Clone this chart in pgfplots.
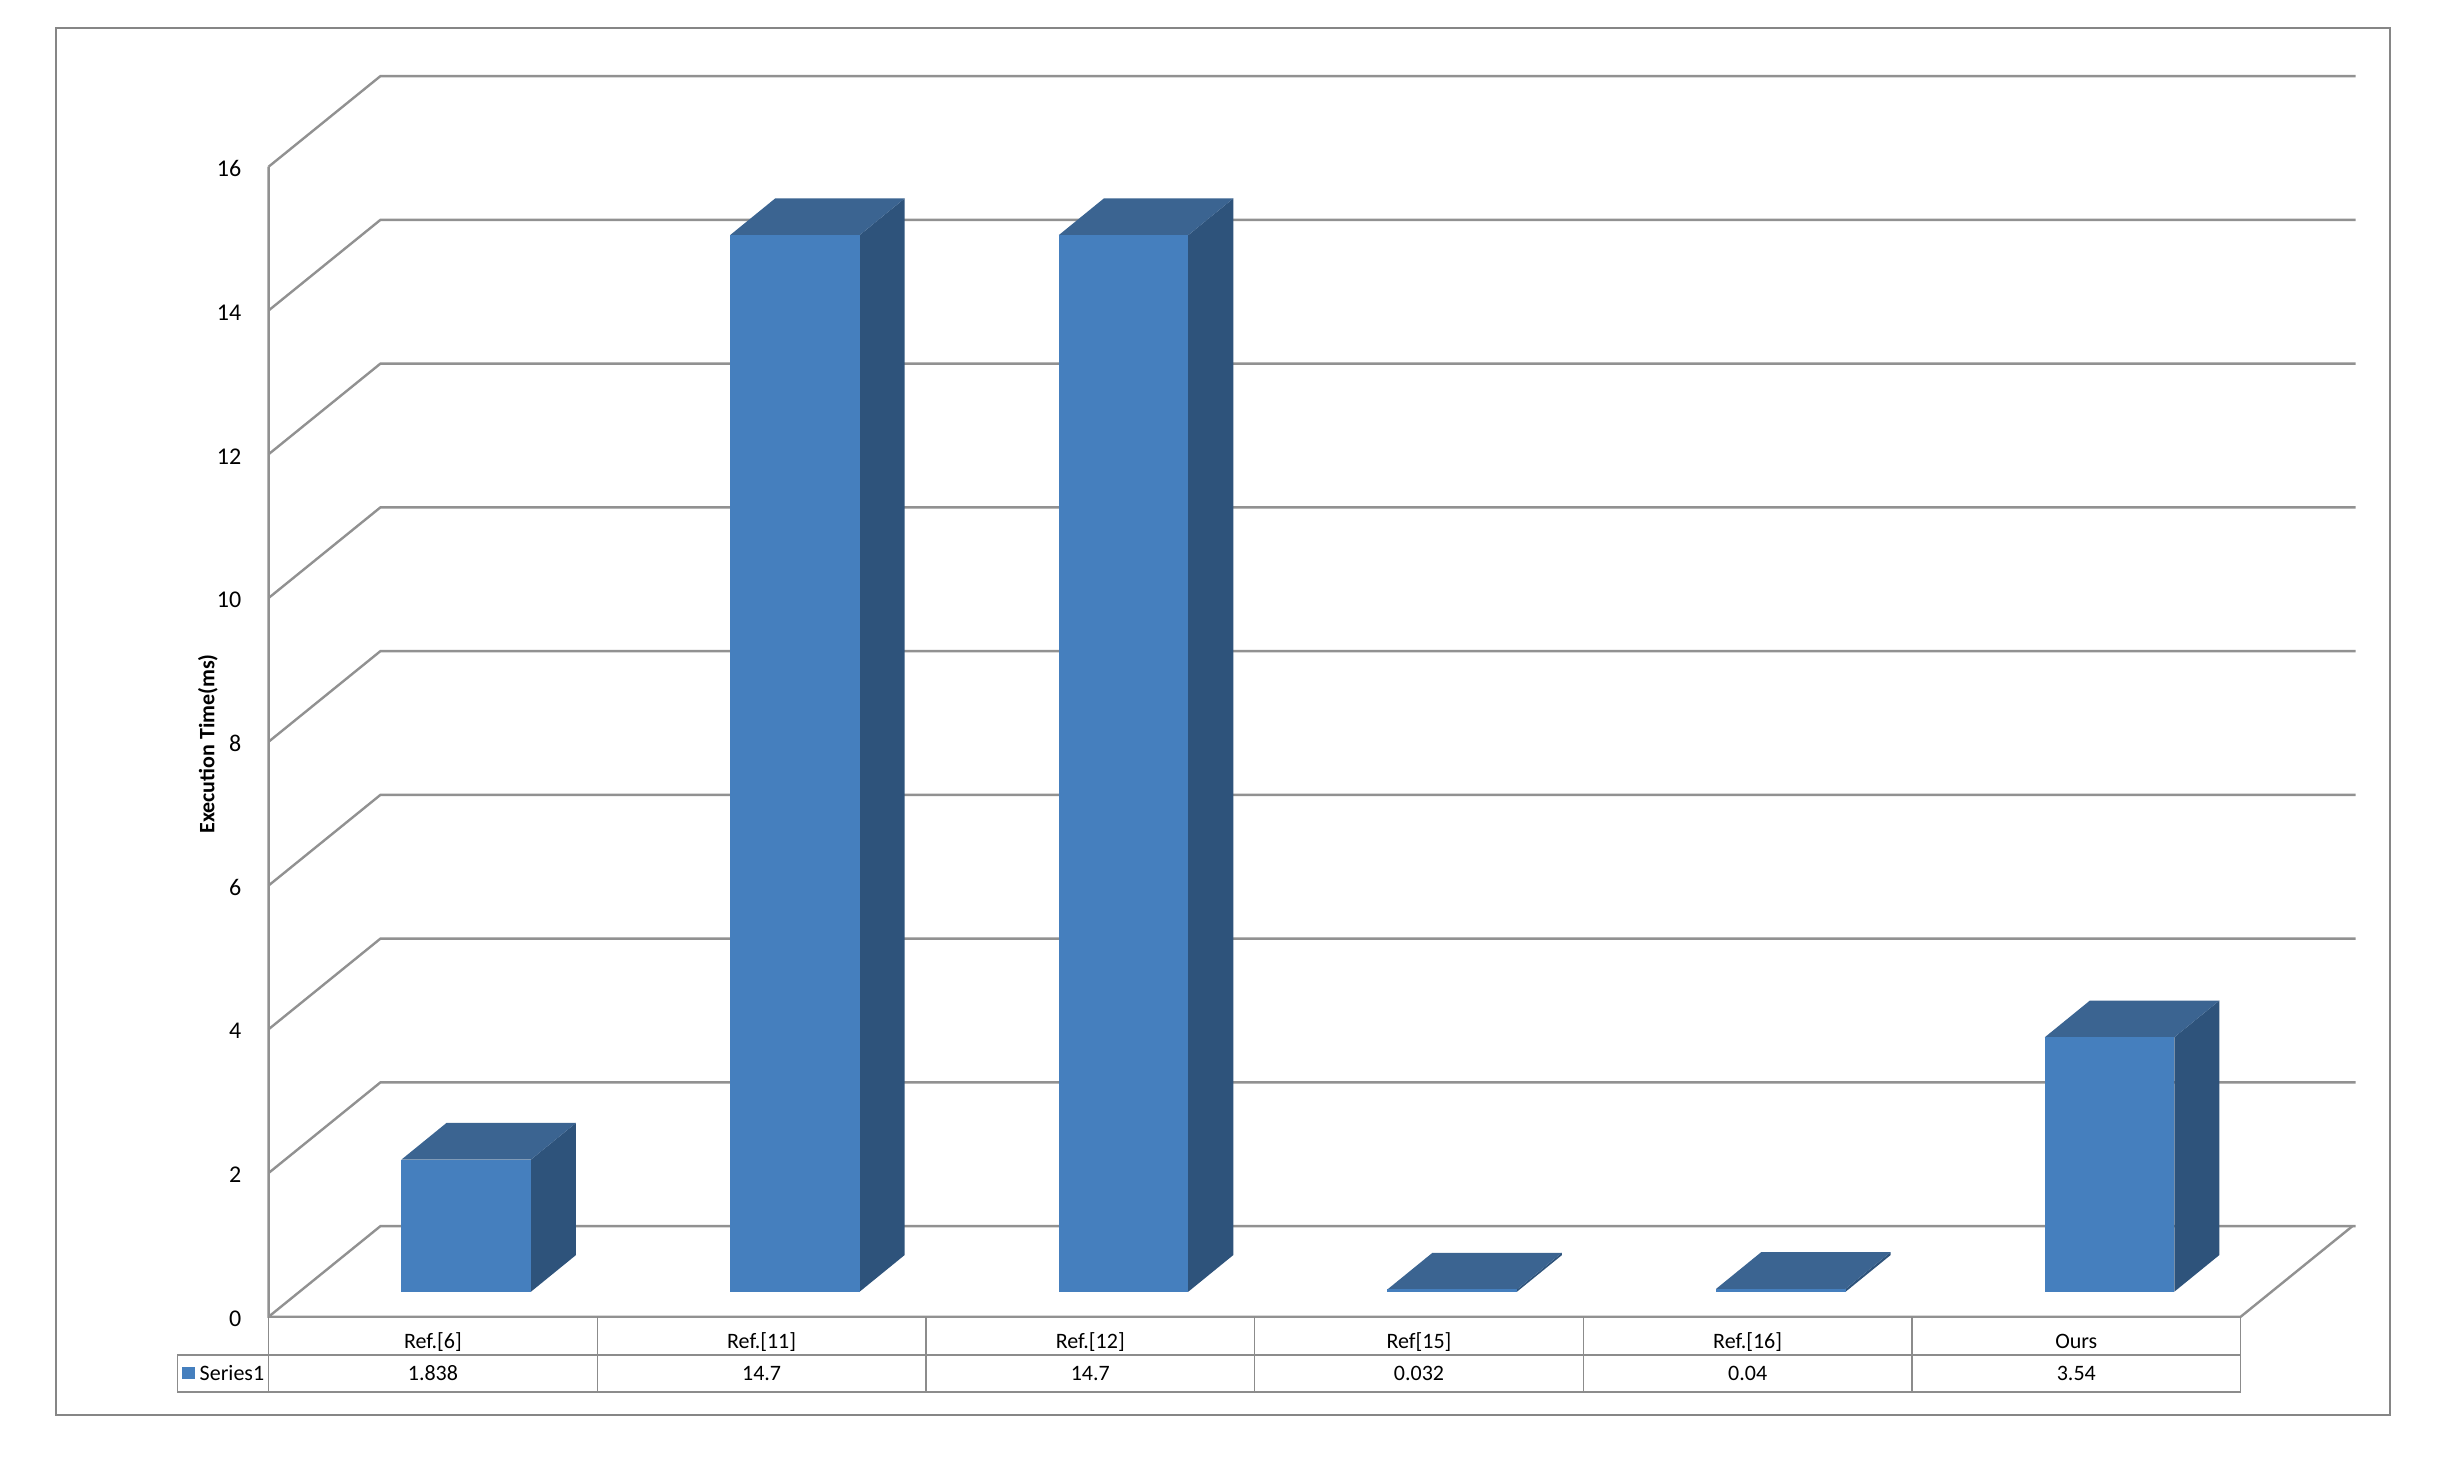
\documentclass[border=0pt]{standalone}
\usepackage{pgfplots}
\pgfplotsset{compat=1.18}
\usepackage{graphicx}
\usepackage{fontspec}
\setmainfont{Carlito}
\definecolor{barfront}{RGB}{69,127,190}
\definecolor{bartop}{RGB}{59,100,145}
\definecolor{barside}{RGB}{46,83,123}
\definecolor{gridgray}{RGB}{145,145,145}
\definecolor{framegray}{RGB}{134,134,134}
\definecolor{tablegray}{RGB}{140,140,140}

% one 3-D column: #1 category index, #2 value
\newcommand{\tbar}[2]{%
 \pgfmathsetmacro{\xa}{#1+0.404}%
 \pgfmathsetmacro{\xb}{#1+0.798}%
 \pgfmathsetmacro{\xc}{#1+0.404+0.137}%
 \pgfmathsetmacro{\xd}{#1+0.798+0.137}%
 \pgfmathsetmacro{\ya}{0.348}%
 \pgfmathsetmacro{\yb}{#2+0.348}%
 \pgfmathsetmacro{\yc}{0.348+0.51}%
 \pgfmathsetmacro{\yd}{#2+0.348+0.51}%
 \edef\tmp{%
  \noexpand\addplot[fill=barside,draw=none] coordinates {(\xb,\ya) (\xd,\yc) (\xd,\yd) (\xb,\yb)};
  \noexpand\addplot[fill=bartop,draw=none] coordinates {(\xa,\yb) (\xb,\yb) (\xd,\yd) (\xc,\yd)};
  \noexpand\addplot[fill=barfront,draw=none] coordinates {(\xa,\ya) (\xb,\ya) (\xb,\yb) (\xa,\yb)};
 }\tmp}

\begin{document}
\begin{tikzpicture}
\begin{axis}[
  scale only axis, width=521.75pt, height=310.5pt,
  xmin=0, xmax=6.35, ymin=0, ymax=17.28,
  clip=false,
  axis line style={draw=none},
  xtick=\empty,
  ytick={0,2,...,16},
  ytick pos=left,
  major tick length=0pt,
  /pgf/number format/assume math mode=true,
  yticklabel style={font=\fontsize{6}{7}\selectfont, xshift=-3.3pt, yshift=-0.5pt},
]
% outer frame
\draw[framegray, line width=0.5pt] (axis cs:-0.647,-1.36) rectangle (axis cs:6.454,17.93);
% walls / grid
\pgfplotsinvokeforeach{0,2,4,6,8,10,12,14,16}{
  \draw[gridgray, line width=0.6pt] (axis cs:0,#1) -- (axis cs:0.34,{#1+1.26}) -- (axis cs:6.35,{#1+1.26});
}
\draw[gridgray, line width=0.6pt] (axis cs:0,16) -- (axis cs:0,0) -- (axis cs:6,0) -- (axis cs:6.34,1.26);
% bars
\tbar{0}{1.838}
\tbar{1}{14.7}
\tbar{2}{14.7}
\tbar{3}{0.032}
\tbar{4}{0.04}
\tbar{5}{3.54}
% data table
\pgfplotsinvokeforeach{0,1,2,3,4,5,6}{
  \draw[tablegray, line width=0.35pt] (axis cs:#1,0) -- (axis cs:#1,-1.043);
}
\draw[tablegray, line width=0.35pt] (axis cs:-0.278,-0.533) -- (axis cs:6,-0.533);
\draw[tablegray, line width=0.35pt] (axis cs:-0.278,-0.533) -- (axis cs:-0.278,-1.043);
\draw[tablegray, line width=0.6pt] (axis cs:-0.278,-1.043) -- (axis cs:6,-1.043);
\fill[barfront] (axis cs:-0.263,-0.70) rectangle (axis cs:-0.225,-0.868);
\begin{scope}[every node/.style={font=\fontsize{5.5}{6}\selectfont, inner sep=0pt}]
\node[anchor=base west] at (axis cs:-0.212,-0.89) {Series1};
\node[anchor=base] at (axis cs:0.5,-0.445) {Ref.[6]};
\node[anchor=base] at (axis cs:1.5,-0.445) {Ref.[11]};
\node[anchor=base] at (axis cs:2.5,-0.445) {Ref.[12]};
\node[anchor=base] at (axis cs:3.5,-0.445) {Ref[15]};
\node[anchor=base] at (axis cs:4.5,-0.445) {Ref.[16]};
\node[anchor=base] at (axis cs:5.5,-0.445) {Ours};
\node[anchor=base] at (axis cs:0.5,-0.89) {1.838};
\node[anchor=base] at (axis cs:1.5,-0.89) {14.7};
\node[anchor=base] at (axis cs:2.5,-0.89) {14.7};
\node[anchor=base] at (axis cs:3.5,-0.89) {0.032};
\node[anchor=base] at (axis cs:4.5,-0.89) {0.04};
\node[anchor=base] at (axis cs:5.5,-0.89) {3.54};
\end{scope}
% y label
\node[rotate=90, font=\bfseries\fontsize{5.5}{6}\selectfont] at (axis cs:-0.185,7.97) {Execution Time(ms)};
% bounding box corners
\coordinate (bbl) at (axis cs:-0.8173,-2.008);
\coordinate (bbr) at (axis cs:6.634,18.32);
\end{axis}
\pgfresetboundingbox
\path[use as bounding box] (bbl) rectangle (bbr);
\end{tikzpicture}
\end{document}
